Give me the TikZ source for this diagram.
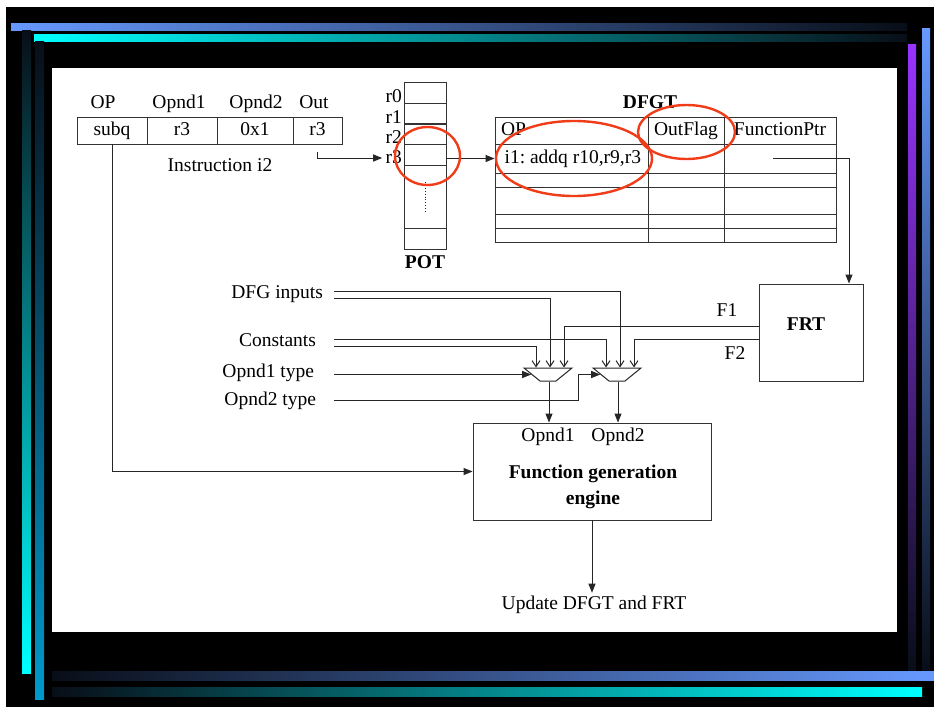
\documentclass[tikz,border=0pt]{standalone}
\usepackage{fontspec}
\setmainfont{Liberation Serif}
\usetikzlibrary{arrows.meta,shapes.geometric}
\definecolor{ringred}{RGB}{240,60,25}
\definecolor{barblue}{RGB}{102,153,255}
\definecolor{barcyan}{RGB}{0,255,255}
\definecolor{barpurple}{RGB}{153,51,255}
\definecolor{bardeep}{RGB}{0,153,204}
\definecolor{bardark}{RGB}{8,14,24}

\begin{document}
\begin{tikzpicture}[x=1pt,y=-1pt]
	\tikzstyle{every node}=[font=\fontsize{19.5}{22}\selectfont,text height=13pt,text depth=2.5pt]
	\tikzstyle{heading}=[font=\fontsize{19.5}{22}\selectfont\bfseries]
	\tikzstyle{cell}=[draw=black!80,line width=0.9pt,inner sep=0pt,minimum height=27pt]
	\tikzstyle{slot}=[cell,text height=0pt,text depth=0pt]
	\tikzstyle{mux}=[draw=black!85,line width=1pt,trapezium,shape border rotate=180,trapezium angle=45,trapezium stretches=true,minimum width=48pt,minimum height=13pt,inner sep=1pt,text height=2pt,text depth=0pt,text width=2pt]
	\tikzstyle{wire}=[draw=black!85,line width=1pt]
	\tikzstyle{headfill}=[-{Triangle[length=9pt,width=7pt]}]
	\tikzstyle{barb}=[-{Straight Barb[length=6pt,width=8pt,line width=1pt]}]
	\tikzstyle{ring}=[draw=ringred,line width=2.4pt]
	\useasboundingbox (0,0) rectangle (934,707);
	\fill[white] (0,0) rectangle (934,707);
	\fill[black] (6,7) rectangle (934,707);
	\shade[left color=barblue,right color=bardark] (11,23) rectangle (907,30);
	\shade[left color=barcyan,right color=bardark] (34,34) rectangle (907,41);
	\shade[top color=bardark,bottom color=barcyan] (22,30) rectangle (31,673);
	\shade[top color=bardark,bottom color=bardeep] (35,41) rectangle (44,699);
	\shade[top color=barpurple,bottom color=bardark] (908,44) rectangle (916,670);
	\shade[top color=barblue,bottom color=bardark] (922,28) rectangle (930,671);
	\shade[left color=bardark,right color=barblue] (52,671) rectangle (934,680);
	\shade[left color=bardark,right color=barcyan] (52,687) rectangle (922,696);
	\fill[white] (52,68) rectangle (897,632);

	\node (hop) at (103,103) {OP};
	\node (hop1) at (179,103) {Opnd1};
	\node (hop2) at (256,103) {Opnd2};
	\node (hout) at (314,103) {Out};
	\node[cell,minimum width=70pt] (iop) at (112,130.5) {subq};
	\node[cell,minimum width=70pt] (iop1) at (182,130.5) {r3};
	\node[cell,minimum width=76pt] (iop2) at (255,130.5) {0x1};
	\node[cell,minimum width=49pt] (iout) at (317.5,130.5) {r3};
	\node (iname) at (220,166) {Instruction i2};

	\foreach \n/\y in {0/92.5,1/113.5,2/134,3/154.5}
		\node[slot,minimum width=42pt,minimum height=21pt] (pot\n) at (425,\y) {};
	\node[slot,minimum width=42pt,minimum height=63pt] (potmid) at (425,196.5) {};
	\node[slot,minimum width=42pt,minimum height=21pt] (potend) at (425,238.5) {};
	\draw[black!85,line width=0.9pt,dotted] (425,182) -- (425,212);
	\foreach \n/\y in {0/97,1/118,2/138,3/158}
		\node[anchor=east] (lr\n) at (405.5,\y) {r\n};
	\node[heading] (potname) at (425,263) {POT};

	\node[heading] (dfgtname) at (650,103) {DFGT};
	\node[slot,minimum width=153pt] (dop) at (571.5,130.5) {};
	\node[anchor=west] (dopname) at ([xshift=3pt]dop.west) {OP};
	\node[cell,minimum width=76pt] (dflag) at (686,130.5) {OutFlag};
	\node[cell,minimum width=112pt] (dfptr) at (780,130.5) {FunctionPtr};
	\node[slot,minimum width=153pt,minimum height=29pt] (dop1) at (571.5,158.5) {};
	\node[anchor=west] (dins) at ([xshift=6.5pt]dop1.west) {i1:\ addq r10,r9,r3};
	\node[slot,minimum width=76pt,minimum height=29pt] (dflag1) at (686,158.5) {};
	\node[slot,minimum width=112pt,minimum height=29pt] (dfptr1) at (780,158.5) {};
	\foreach \r/\y/\h in {2/180/14,3/200.5/27,4/221/14,5/235/14}{
		\node[slot,minimum width=153pt,minimum height=\h pt] (dop\r) at (571.5,\y) {};
		\node[slot,minimum width=76pt,minimum height=\h pt] (dflag\r) at (686,\y) {};
		\node[slot,minimum width=112pt,minimum height=\h pt] (dfptr\r) at (780,\y) {};
	}

	\node[slot,minimum width=104pt,minimum height=97pt] (frt) at (811,332.5) {};
	\node[heading] (frtname) at (806,325) {FRT};
	\node (lf1) at (727,311.5) {F1};
	\node (lf2) at (735,354) {F2};

	\node[mux] (mux1) at (548,374.5) {};
	\node[mux] (mux2) at (617,374.5) {};

	\node[anchor=east] (ldfg) at (326.5,293) {DFG inputs};
	\node[anchor=east] (lcon) at (319.5,341) {Constants};
	\node[anchor=east] (lty1) at (317.5,372) {Opnd1 type};
	\node[anchor=east] (lty2) at (319.5,400) {Opnd2 type};

	\node[slot,minimum width=238pt,minimum height=97pt] (fge) at (592,471.5) {};
	\node (fgo1) at (548,436) {Opnd1};
	\node (fgo2) at (618,436) {Opnd2};
	\node[heading] (fgt1) at (593,473) {Function generation};
	\node[heading] (fgt2) at (593,499) {engine};
	\node (upd) at (594,604) {Update DFGT and FRT};

	\draw[wire,headfill] ([yshift=-8pt]iout.south) |- (lr3.west);
	\draw[wire,headfill] (pot3.east |- dop1.west) -- (dop1.west);
	\draw[wire,headfill] ([xshift=-7pt]dfptr1.center) -| ([xshift=38pt]frt.north);
	\draw[wire,headfill] (iop.south) |- (fge.west);
	\draw[wire,barb] ([xshift=7.5pt,yshift=2pt]ldfg.east) -| ([xshift=3pt]mux2.north);
	\draw[wire,barb] ([xshift=7.5pt,yshift=-5pt]ldfg.east) -| ([xshift=2pt]mux1.north);
	\draw[wire,barb] ([xshift=14.5pt,yshift=2pt]lcon.east) -| ([xshift=-11pt]mux2.north);
	\draw[wire,barb] ([xshift=14.5pt,yshift=-5pt]lcon.east) -| ([xshift=-12pt]mux1.north);
	\draw[wire,barb] ([yshift=6.5pt]frt.west) -| ([xshift=16pt]mux1.north);
	\draw[wire,barb] ([yshift=-6.5pt]frt.west) -| ([xshift=17pt]mux2.north);
	\draw[wire,headfill] ([xshift=16.5pt]lty1.east |- mux1.west) -- (mux1.west);
	\draw[wire,headfill] ([xshift=14.5pt]lty2.east) -- ++(244,0) |- (mux2.west);
	\draw[wire,headfill] ([xshift=1pt]mux1.south) -- ([xshift=1pt]mux1.south |- fge.north);
	\draw[wire,headfill] ([xshift=1pt]mux2.south) -- ([xshift=1pt]mux2.south |- fge.north);
	\draw[wire,headfill] (fge.south) -- (fge.south |- upd.north);

	\draw[ring] (427.5,156) ellipse [x radius=32.5,y radius=29];
	\draw[ring] (574,158.5) ellipse [x radius=78,y radius=37.5];
	\draw[ring] (686.5,132) ellipse [x radius=48.5,y radius=27];
\end{tikzpicture}
\end{document}
